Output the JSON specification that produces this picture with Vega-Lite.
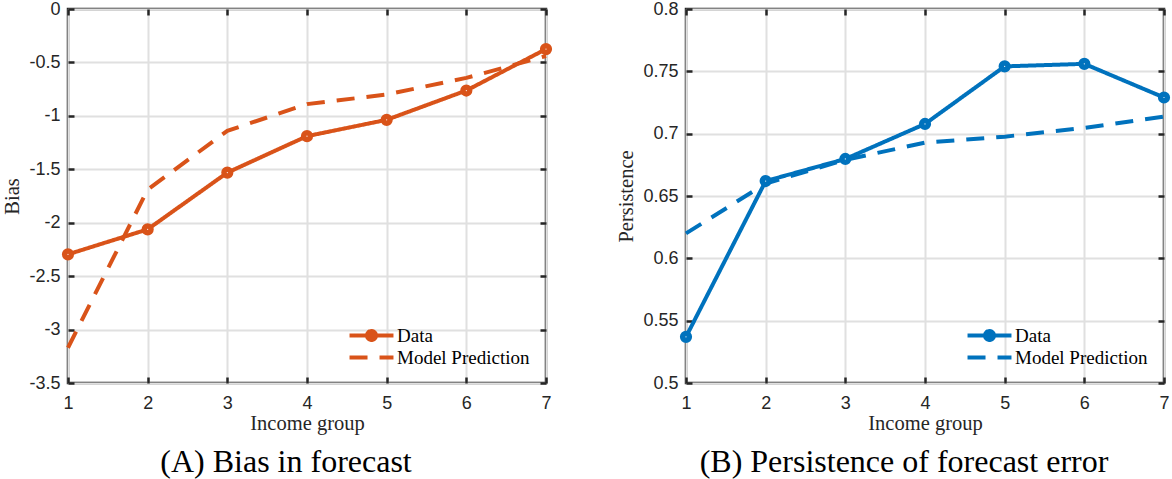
{
  "$schema": "https://vega.github.io/schema/vega-lite/v6.json",
  "background": "white",
  "padding": {"left": 1, "top": -2, "right": 0, "bottom": 0},
  "bounds": "flush",
  "spacing": 140,
  "resolve": {"scale": {"strokeDash": "independent"}, "legend": {"strokeDash": "independent"}},
  "config": {
    "view": {"stroke": "#262626", "strokeWidth": 2.5},
    "axis": {
      "domain": false,
      "grid": true,
      "gridColor": "#e0e0e0",
      "gridWidth": 2,
      "gridOpacity": 1,
      "ticks": true,
      "tickColor": "#262626",
      "tickWidth": 2.5,
      "tickSize": -6,
      "labelFont": "Liberation Sans",
      "labelFontSize": 18,
      "labelColor": "#262626",
      "labelFlush": false,
      "labelOverlap": false,
      "labelExpr": "toString(datum.value)",
      "titleFont": "Liberation Serif",
      "titleFontSize": 20.5,
      "titleFontWeight": "normal",
      "titleColor": "#262626"
    },
    "axisX": {"labelPadding": 17, "titlePadding": 1},
    "axisY": {"labelPadding": 14, "titlePadding": 6},
    "legend": {
      "orient": "none",
      "padding": 0,
      "rowPadding": 0,
      "symbolSize": 196,
      "symbolStrokeWidth": 4,
      "labelFont": "Liberation Serif",
      "labelFontSize": 19,
      "labelColor": "#000000",
      "labelOffset": 16,
      "labelLimit": 400,
      "title": null
    },
    "title": {
      "orient": "bottom",
      "font": "Liberation Serif",
      "fontSize": 32,
      "fontWeight": "normal",
      "color": "#000000",
      "anchor": "middle",
      "offset": 13,
      "dx": -21
    }
  },
  "hconcat": [
    {
      "width": 478,
      "height": 374,
      "title": "(A) Bias in forecast",
      "data": {"values": [
        {"g": 1, "v": -2.296, "series": "Data"},
        {"g": 2, "v": -2.062, "series": "Data"},
        {"g": 3, "v": -1.531, "series": "Data"},
        {"g": 4, "v": -1.19, "series": "Data"},
        {"g": 5, "v": -1.037, "series": "Data"},
        {"g": 6, "v": -0.763, "series": "Data"},
        {"g": 7, "v": -0.375, "series": "Data"},
        {"g": 1, "v": -3.17, "series": "Model Prediction"},
        {"g": 2, "v": -1.69, "series": "Model Prediction"},
        {"g": 3, "v": -1.14, "series": "Model Prediction"},
        {"g": 4, "v": -0.89, "series": "Model Prediction"},
        {"g": 5, "v": -0.8, "series": "Model Prediction"},
        {"g": 6, "v": -0.645, "series": "Model Prediction"},
        {"g": 7, "v": -0.44, "series": "Model Prediction"}
      ]},
      "layer": [
        {
          "mark": {"type": "line", "strokeWidth": 4, "color": "#D95319"},
          "encoding": {
            "x": {"field": "g", "type": "quantitative", "scale": {"domain": [1, 7], "nice": false, "zero": false},
                  "axis": {"orient": "bottom", "values": [1, 2, 3, 4, 5, 6, 7], "title": "Income group"}},
            "y": {"field": "v", "type": "quantitative", "scale": {"domain": [-3.5, 0], "nice": false, "zero": false},
                  "axis": {"orient": "left", "values": [-3.5, -3, -2.5, -2, -1.5, -1, -0.5, 0], "title": "Bias"}},
            "strokeDash": {"field": "series", "type": "nominal",
              "scale": {"domain": ["Data", "Model Prediction"], "range": [[1, 0], [18, 12]]},
              "legend": {
                "legendX": 294, "legendY": 317,
                "symbolStrokeColor": "#D95319",
                "symbolFillColor": "#D95319",
                "encoding": {"symbols": {
                  "shape": {"condition": {"test": "datum.value === 'Data'", "value": "M-3.14,0H3.14M-0.64,0A0.64,0.64 0 1,1 0.64,0A0.64,0.64 0 1,1 -0.64,0Z"}, "value": "M-3.14,0H3.14"},
                  "fill": {"value": "#D95319"},
                  "stroke": {"value": "#D95319"}
                }}
              }}
          }
        },
        {
          "transform": [{"filter": "datum.series === 'Data'"}],
          "mark": {"type": "point", "filled": false, "fill": "white", "fillOpacity": 1, "opacity": 1, "strokeWidth": 5.5, "size": 45, "color": "#D95319"},
          "encoding": {
            "x": {"field": "g", "type": "quantitative",
                  "axis": {"orient": "top", "values": [1, 2, 3, 4, 5, 6, 7], "labels": false, "grid": false, "title": null}},
            "y": {"field": "v", "type": "quantitative",
                  "axis": {"orient": "right", "values": [-3.5, -3, -2.5, -2, -1.5, -1, -0.5, 0], "labels": false, "grid": false, "title": null}}
          }
        }
      ],
      "resolve": {"axis": {"x": "independent", "y": "independent"}}
    },
    {
      "width": 478,
      "height": 374,
      "title": "(B) Persistence of forecast error",
      "data": {"values": [
        {"g": 1, "v": 0.537, "series": "Data"},
        {"g": 2, "v": 0.662, "series": "Data"},
        {"g": 3, "v": 0.6797, "series": "Data"},
        {"g": 4, "v": 0.7078, "series": "Data"},
        {"g": 5, "v": 0.754, "series": "Data"},
        {"g": 6, "v": 0.756, "series": "Data"},
        {"g": 7, "v": 0.729, "series": "Data"},
        {"g": 1, "v": 0.62, "series": "Model Prediction"},
        {"g": 2, "v": 0.66, "series": "Model Prediction"},
        {"g": 3, "v": 0.679, "series": "Model Prediction"},
        {"g": 4, "v": 0.6928, "series": "Model Prediction"},
        {"g": 5, "v": 0.6976, "series": "Model Prediction"},
        {"g": 6, "v": 0.7046, "series": "Model Prediction"},
        {"g": 7, "v": 0.7137, "series": "Model Prediction"}
      ]},
      "layer": [
        {
          "mark": {"type": "line", "strokeWidth": 4, "color": "#0072BD"},
          "encoding": {
            "x": {"field": "g", "type": "quantitative", "scale": {"domain": [1, 7], "nice": false, "zero": false},
                  "axis": {"orient": "bottom", "values": [1, 2, 3, 4, 5, 6, 7], "title": "Income group"}},
            "y": {"field": "v", "type": "quantitative", "scale": {"domain": [0.5, 0.8], "nice": false, "zero": false},
                  "axis": {"orient": "left", "values": [0.5, 0.55, 0.6, 0.65, 0.7, 0.75, 0.8], "title": "Persistence"}},
            "strokeDash": {"field": "series", "type": "nominal",
              "scale": {"domain": ["Data", "Model Prediction"], "range": [[1, 0], [18, 12]]},
              "legend": {
                "legendX": 294, "legendY": 317,
                "symbolStrokeColor": "#0072BD",
                "symbolFillColor": "#0072BD",
                "encoding": {"symbols": {
                  "shape": {"condition": {"test": "datum.value === 'Data'", "value": "M-3.14,0H3.14M-0.64,0A0.64,0.64 0 1,1 0.64,0A0.64,0.64 0 1,1 -0.64,0Z"}, "value": "M-3.14,0H3.14"},
                  "fill": {"value": "#0072BD"},
                  "stroke": {"value": "#0072BD"}
                }}
              }}
          }
        },
        {
          "transform": [{"filter": "datum.series === 'Data'"}],
          "mark": {"type": "point", "filled": false, "fill": "white", "fillOpacity": 1, "opacity": 1, "strokeWidth": 5.5, "size": 45, "color": "#0072BD"},
          "encoding": {
            "x": {"field": "g", "type": "quantitative",
                  "axis": {"orient": "top", "values": [1, 2, 3, 4, 5, 6, 7], "labels": false, "grid": false, "title": null}},
            "y": {"field": "v", "type": "quantitative",
                  "axis": {"orient": "right", "values": [0.5, 0.55, 0.6, 0.65, 0.7, 0.75, 0.8], "labels": false, "grid": false, "title": null}}
          }
        }
      ],
      "resolve": {"axis": {"x": "independent", "y": "independent"}}
    }
  ]
}
